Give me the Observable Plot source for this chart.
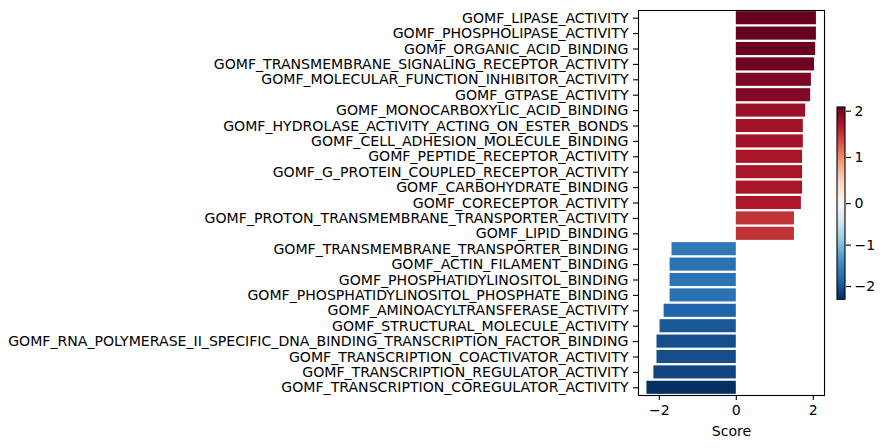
<!DOCTYPE html>
<html>
<head>
<meta charset="utf-8">
<script src="https://cdn.jsdelivr.net/npm/d3@7"></script>
<script src="https://cdn.jsdelivr.net/npm/@observablehq/plot@0.6"></script>
<style>
  html, body { margin: 0; padding: 0; background: #fff; }
  #wrap { position: relative; width: 886px; height: 448px; }
  #wrap svg { position: absolute; top: 0; }
</style>
</head>
<body>
<div id="wrap"></div>
<script>
const terms = [
  "GOMF_LIPASE_ACTIVITY",
  "GOMF_PHOSPHOLIPASE_ACTIVITY",
  "GOMF_ORGANIC_ACID_BINDING",
  "GOMF_TRANSMEMBRANE_SIGNALING_RECEPTOR_ACTIVITY",
  "GOMF_MOLECULAR_FUNCTION_INHIBITOR_ACTIVITY",
  "GOMF_GTPASE_ACTIVITY",
  "GOMF_MONOCARBOXYLIC_ACID_BINDING",
  "GOMF_HYDROLASE_ACTIVITY_ACTING_ON_ESTER_BONDS",
  "GOMF_CELL_ADHESION_MOLECULE_BINDING",
  "GOMF_PEPTIDE_RECEPTOR_ACTIVITY",
  "GOMF_G_PROTEIN_COUPLED_RECEPTOR_ACTIVITY",
  "GOMF_CARBOHYDRATE_BINDING",
  "GOMF_CORECEPTOR_ACTIVITY",
  "GOMF_PROTON_TRANSMEMBRANE_TRANSPORTER_ACTIVITY",
  "GOMF_LIPID_BINDING",
  "GOMF_TRANSMEMBRANE_TRANSPORTER_BINDING",
  "GOMF_ACTIN_FILAMENT_BINDING",
  "GOMF_PHOSPHATIDYLINOSITOL_BINDING",
  "GOMF_PHOSPHATIDYLINOSITOL_PHOSPHATE_BINDING",
  "GOMF_AMINOACYLTRANSFERASE_ACTIVITY",
  "GOMF_STRUCTURAL_MOLECULE_ACTIVITY",
  "GOMF_RNA_POLYMERASE_II_SPECIFIC_DNA_BINDING_TRANSCRIPTION_FACTOR_BINDING",
  "GOMF_TRANSCRIPTION_COACTIVATOR_ACTIVITY",
  "GOMF_TRANSCRIPTION_REGULATOR_ACTIVITY",
  "GOMF_TRANSCRIPTION_COREGULATOR_ACTIVITY"
];
const scores = [
  2.08, 2.08, 2.06, 2.03, 1.95, 1.93, 1.80, 1.74, 1.74, 1.72, 1.72, 1.72, 1.69, 1.51, 1.51,
  -1.67, -1.72, -1.72, -1.72, -1.875, -1.98, -2.06, -2.06, -2.14, -2.32
];
const xTicks = [-2, 0, 2];
const cbarTicks = [-2, -1, 0, 1, 2];
// matplotlib RdBu_r anchor colours
const rdbuR = ["#053061","#2166ac","#4393c3","#92c5de","#d1e5f0","#f7f7f7","#fddbc7","#f4a582","#d6604d","#b2182b","#67001f"];

const data = terms.map((t, i) => ({term: t, score: scores[i]}));
const [vmin, vmax] = d3.extent(scores);
const interp = d3.piecewise(d3.interpolateRgb, rdbuR);
const colorOpts = {type: "diverging", domain: [vmin, vmax], pivot: 0, symmetric: false, interpolate: interp};
const fmt = d => d < 0 ? "\u2212" + Math.abs(d) : String(d);
const FONT = "DejaVu Sans";
const FS = "14.1px";

const main = Plot.plot({
  width: 886, height: 448,
  marginLeft: 638, marginRight: 62, marginTop: 10, marginBottom: 53,
  style: {fontFamily: FONT, fontSize: FS, color: "#000", background: "transparent", overflow: "visible"},
  x: {domain: [-2.54, 2.29]},
  y: {domain: terms, paddingInner: 0.15, paddingOuter: 0.075, round: false},
  color: colorOpts,
  marks: [
    Plot.barX(data, {x: "score", y: "term", fill: "score"}),
    Plot.frame({stroke: "#000", strokeWidth: 1.1}),
    Plot.axisX({ticks: xTicks, tickFormat: fmt, tickSize: 5, tickPadding: 4, strokeWidth: 1.1, fontSize: FS,
      label: "Score", labelAnchor: "center", labelArrow: "none", labelOffset: 40}),
    Plot.axisY({tickSize: 5, tickPadding: 5, strokeWidth: 1.1, fontSize: FS, label: null})
  ]
});

// colorbar
const N = 192;
const vAt = t => t < 0.5 ? vmin * (1 - 2 * t) : vmax * (2 * t - 1);
const steps = d3.range(N).map(i => ({v0: vAt(i / N), v1: vAt((i + 1) / N), vm: vAt((i + 0.5) / N)}));
const cbar = Plot.plot({
  width: 66, height: 448,
  marginLeft: 17, marginRight: 41, marginTop: 0, marginBottom: 0,
  style: {fontFamily: FONT, fontSize: FS, color: "#000", background: "transparent", overflow: "visible"},
  x: {domain: [0, 1], axis: null},
  y: {type: "linear", domain: [vmin, 0, vmax], range: [299.3, 203.15, 107]},
  color: colorOpts,
  marks: [
    Plot.rect(steps, {x1: 0, x2: 1, y1: "v0", y2: "v1", fill: "vm", shapeRendering: "crispEdges"}),
    Plot.rect([0], {x1: 0, x2: 1, y1: vmin, y2: vmax, fill: "none", stroke: "#000", strokeWidth: 1.1}),
    Plot.axisY({anchor: "right", ticks: cbarTicks, tickFormat: fmt, tickSize: 5, tickPadding: 4, strokeWidth: 1.1, fontSize: FS, label: null})
  ]
});
main.style.left = "0px";
cbar.style.left = "820px";
document.getElementById("wrap").append(main, cbar);
</script>
</body>
</html>
